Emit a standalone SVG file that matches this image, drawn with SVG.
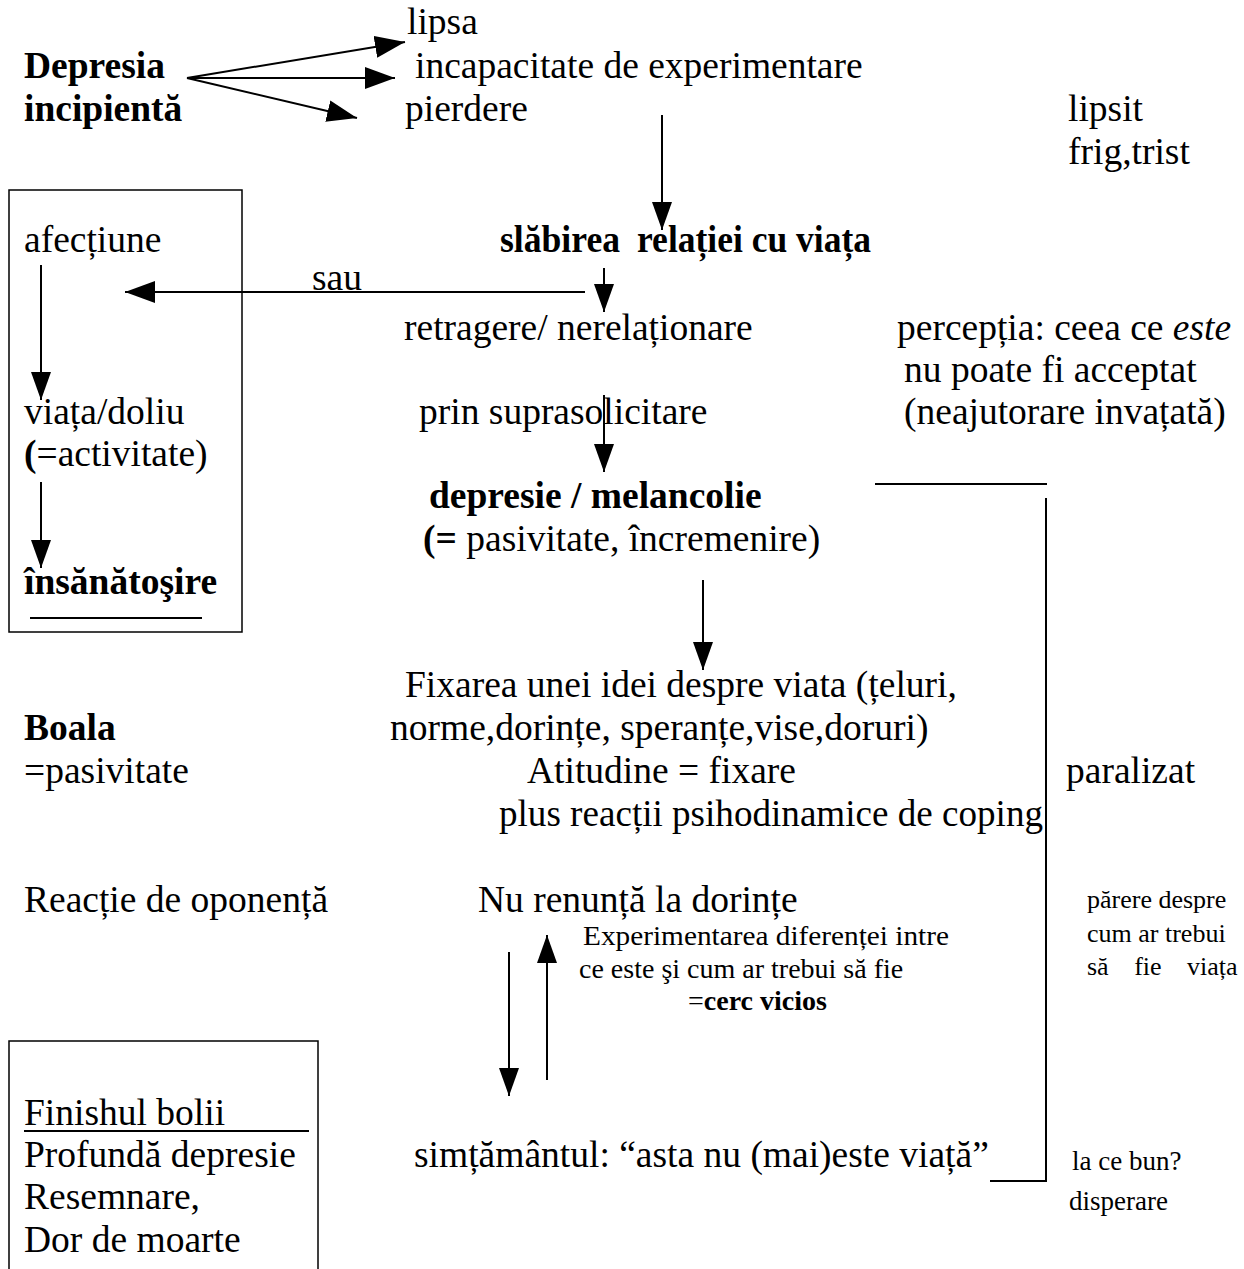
<svg xmlns="http://www.w3.org/2000/svg" width="1244" height="1269" viewBox="0 0 1244 1269">
<defs>
<marker id="ah" viewBox="0 0 30 22" refX="30" refY="11" markerWidth="30" markerHeight="22" markerUnits="userSpaceOnUse" orient="auto"><path d="M0,0 L30,11 L0,22 z" fill="#000"/></marker>
<marker id="as" viewBox="0 0 28 20" refX="28" refY="10" markerWidth="28" markerHeight="20" markerUnits="userSpaceOnUse" orient="auto"><path d="M0,0 L28,10 L0,20 z" fill="#000"/></marker>
</defs>
<style>
text{font-family:"Liberation Serif","Times New Roman",serif;font-size:37.5px;fill:#000}
.b{font-weight:bold}
.s{font-size:28px}
.r{font-size:27px}
.q{font-size:26px}
.ln{stroke:#000;stroke-width:2;fill:none}
</style>
<rect width="1244" height="1269" fill="#fff"/>
<g id="connectors">
<line class="ln" x1="187" y1="78" x2="405" y2="42" marker-end="url(#ah)"/>
<line class="ln" x1="187" y1="78" x2="395" y2="78" marker-end="url(#ah)"/>
<line class="ln" x1="187" y1="78" x2="357" y2="118" marker-end="url(#ah)"/>
<line class="ln" x1="662" y1="115" x2="662" y2="230" marker-end="url(#as)"/>
<line class="ln" x1="604" y1="268" x2="604" y2="312" marker-end="url(#as)"/>
<line class="ln" x1="585" y1="292" x2="125" y2="292" marker-end="url(#ah)"/>
<line class="ln" x1="604" y1="395" x2="604" y2="472" marker-end="url(#as)"/>
<line class="ln" x1="41" y1="265" x2="41" y2="400" marker-end="url(#as)"/>
<line class="ln" x1="41" y1="482" x2="41" y2="568" marker-end="url(#as)"/>
<line class="ln" x1="703" y1="580" x2="703" y2="670" marker-end="url(#as)"/>
<line class="ln" x1="547" y1="1080" x2="547" y2="935" marker-end="url(#as)"/>
<line class="ln" x1="509" y1="952" x2="509" y2="1096" marker-end="url(#as)"/>
<line class="ln" x1="875" y1="484" x2="1047" y2="484"/>
<line class="ln" x1="1046" y1="498" x2="1046" y2="1182"/>
<line class="ln" x1="990" y1="1181" x2="1047" y2="1181"/>
</g>
<g id="n-depresia"><text class="b" x="24" y="78">Depresia</text><text class="b" x="24" y="121">incipientă</text></g>
<g id="n-lipsa"><text x="407" y="34">lipsa</text></g>
<g id="n-incapacitate"><text x="415" y="78">incapacitate de experimentare</text></g>
<g id="n-pierdere"><text x="405" y="121">pierdere</text></g>
<g id="n-lipsit"><text x="1068" y="121">lipsit</text><text x="1068" y="164">frig,trist</text></g>
<g id="n-box1">
<rect x="9" y="190" width="233" height="442" fill="none" stroke="#000" stroke-width="1.5"/>
<text x="24" y="252">afecțiune</text>
<text x="24" y="424">viața/doliu</text>
<text x="24" y="466"><tspan class="b">(</tspan>=activitate)</text>
<text class="b" x="24" y="594">însănătoşire</text>
<line class="ln" x1="30" y1="618" x2="202" y2="618" stroke-width="1.5"/>
</g>
<g id="n-slabirea"><text class="b" x="500" y="252" textLength="120" lengthAdjust="spacingAndGlyphs">slăbirea</text><text class="b" x="637" y="252" textLength="234" lengthAdjust="spacingAndGlyphs">relației cu viața</text></g>
<g id="n-sau"><text x="312" y="290">sau</text></g>
<g id="n-retragere"><text x="404" y="340">retragere/ nerelaționare</text></g>
<g id="n-perceptia">
<text x="897" y="340">percepția: ceea ce <tspan font-style="italic">este</tspan></text>
<text x="904" y="382">nu poate fi acceptat</text>
<text x="904" y="424">(neajutorare invațată)</text>
</g>
<g id="n-prin"><text x="419" y="424">prin suprasolicitare</text></g>
<g id="n-depresie"><text class="b" x="429" y="508">depresie / melancolie</text><text x="423" y="551"><tspan class="b">(=</tspan> pasivitate, încremenire)</text></g>
<g id="n-fixarea">
<text x="405" y="697">Fixarea unei idei despre viata (țeluri,</text>
<text x="390" y="740">norme,dorințe, speranțe,vise,doruri)</text>
<text x="527" y="783">Atitudine = fixare</text>
<text x="499" y="826" textLength="544" lengthAdjust="spacingAndGlyphs">plus reacții psihodinamice de coping</text>
</g>
<g id="n-boala"><text class="b" x="24" y="740">Boala</text><text x="24" y="783">=pasivitate</text></g>
<g id="n-paralizat"><text x="1066" y="783">paralizat</text></g>
<g id="n-reactie"><text x="24" y="912">Reacție de oponență</text></g>
<g id="n-nurenunta"><text x="478" y="912">Nu renunță la dorințe</text></g>
<g id="n-experimentarea">
<text class="s" x="583" y="945" textLength="366" lengthAdjust="spacingAndGlyphs">Experimentarea diferenței intre</text>
<text class="s" x="579" y="978">ce este şi cum ar trebui să fie</text>
<text class="s" x="688" y="1010">=<tspan class="b">cerc vicios</tspan></text>
</g>
<g id="n-parere">
<text class="q" x="1087" y="908">părere despre</text>
<text class="q" x="1087" y="942">cum ar trebui</text>
<text class="q" x="1087" y="975" word-spacing="19">să fie viața</text>
</g>
<g id="n-box2">
<rect x="9" y="1041" width="309" height="240" fill="none" stroke="#000" stroke-width="1.5"/>
<text x="24" y="1125">Finishul bolii</text>
<line class="ln" x1="24" y1="1131" x2="309" y2="1131" stroke-width="1.5"/>
<text x="24" y="1167">Profundă depresie</text>
<text x="24" y="1209">Resemnare,</text>
<text x="24" y="1252">Dor de moarte</text>
</g>
<g id="n-simtamantul"><text x="414" y="1167">simțământul: “asta nu (mai)este viață”</text></g>
<g id="n-lacebun"><text class="r" x="1072" y="1170">la ce bun?</text><text class="r" x="1069" y="1210">disperare</text></g>
</svg>
